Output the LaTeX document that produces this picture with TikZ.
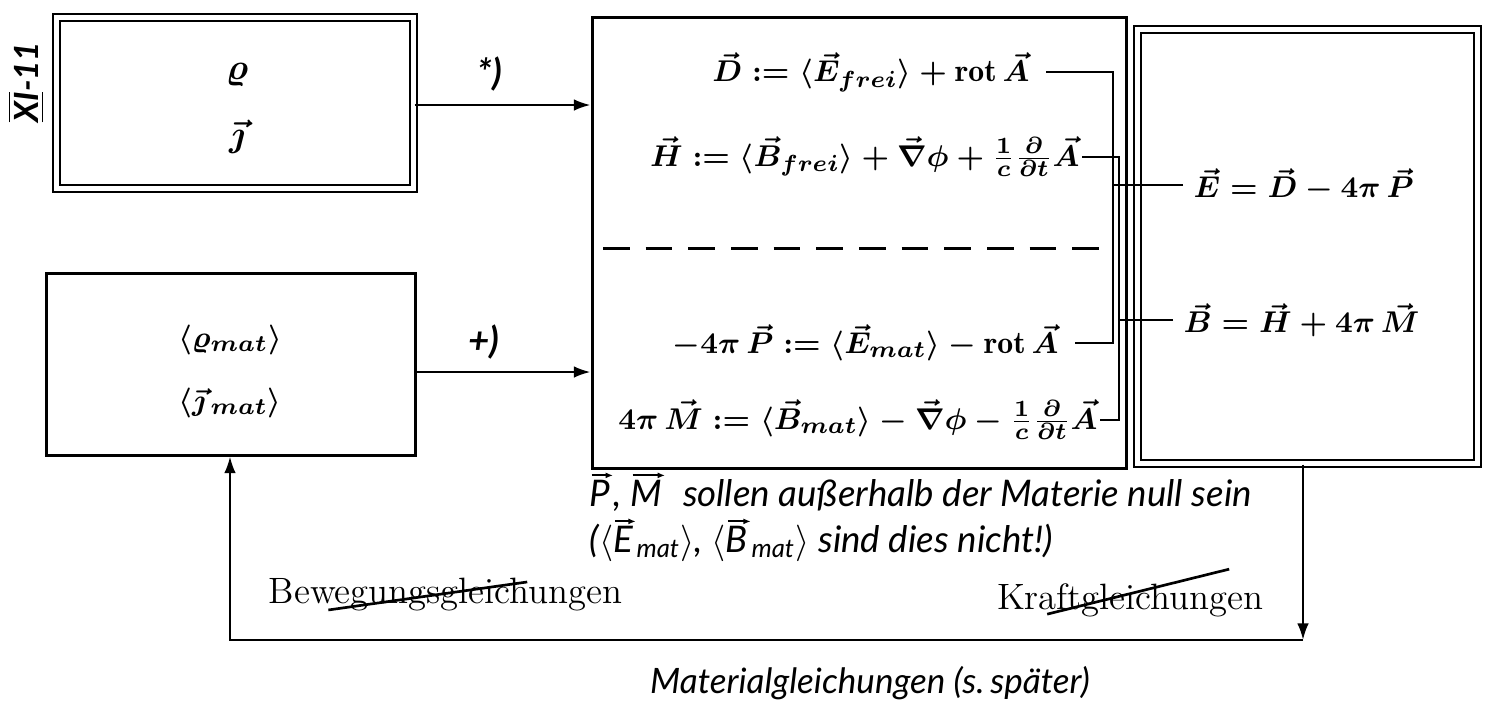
\documentclass[tikz,border=0pt]{standalone}
\usepackage{fontspec}
\usepackage{amsmath}
\usetikzlibrary{arrows.meta,calc}
\newfontfamily\handfont{Lato}
\newcommand\hv[1]{\tikz[baseline=(hvv.base)]{\node[inner sep=0pt,outer sep=0pt,anchor=base] (hvv) at (0,0) {#1};\draw[line width=0.55pt,-{Latex[length=2.2pt,width=1.8pt]}] ([yshift=1.3pt,xshift=0.6pt]hvv.north west) -- ([yshift=1.3pt,xshift=0.8pt]hvv.north east);}}
\begin{document}
\begin{tikzpicture}[x=0.3pt,y=-0.3pt,
  box/.style={draw, line width=0.9pt, inner sep=0pt},
  dbox/.style={draw, double, line width=0.6pt, double distance=1.5pt, inner sep=0pt},
  conn/.style={line width=0.7pt},
  arr/.style={line width=0.7pt, -{Latex[length=5pt,width=3.5pt]}},
  eq/.style={inner sep=0pt, font=\fontsize{9.5}{11}\selectfont\boldmath},
  bigeq/.style={inner sep=0pt, font=\fontsize{11}{13}\selectfont\boldmath},
  hand/.style={inner sep=0pt, font=\handfont\itshape\fontsize{10.5}{12}\selectfont},
  note/.style={inner sep=0pt, font=\handfont\itshape\fontsize{11}{13}\selectfont},
  serif/.style={inner sep=0pt, font=\fontsize{11}{13}\selectfont},
]
\useasboundingbox (0,0) rectangle (1487,709);

% boxes
\node[dbox, minimum width=107.1pt, minimum height=51.3pt] (box1) at (235,103) {};
\node[box, minimum width=110.7pt, minimum height=54.6pt] (box2) at (230.5,364) {};
\node[box, minimum width=160.2pt, minimum height=135.3pt] (main) at (859,242.5) {};
\node[dbox, minimum width=102pt, minimum height=130.2pt] (rbox) at (1307.5,246.5) {};

% box contents
\node[bigeq] (rho) at (237,75) {$\varrho$};
\node[bigeq] (jv) at (237,137) {$\vec\jmath$};
\node[eq] (rhom) at (230,340) {$\langle\varrho_{mat}\rangle$};
\node[eq] (jm) at (230,403) {$\langle\vec\jmath_{\,mat}\rangle$};

% page mark
\node[hand, rotate=90, font=\handfont\bfseries\itshape\fontsize{10}{12}\selectfont] (pg) at (26,82) {$\overline{\underline{\mbox{XI}}}$-11};

% equations
\node[eq, anchor=east] (eqD) at (1030,72) {$\vec D := \langle\vec E_{frei}\rangle + \mathrm{rot}\,\vec A$};
\node[eq, anchor=east] (eqH) at (1080,157) {$\vec H := \langle\vec B_{frei}\rangle + \vec\nabla\phi + \frac1c\frac{\partial}{\partial t}\vec A$};
\node[eq, anchor=east] (eqP) at (1059,343) {$-4\pi\,\vec P := \langle\vec E_{mat}\rangle - \mathrm{rot}\,\vec A$};
\node[eq, anchor=east] (eqM) at (1098,420) {$4\pi\,\vec M := \langle\vec B_{mat}\rangle - \vec\nabla\phi - \frac1c\frac{\partial}{\partial t}\vec A$};
\node[eq, anchor=west] (eqE) at (1193,185) {$\vec E = \vec D - 4\pi\,\vec P$};
\node[eq, anchor=west] (eqB) at (1183,320) {$\vec B = \vec H + 4\pi\,\vec M$};

% bracket coordinates
\coordinate (xD) at (1113,0);
\coordinate (xH) at (1119,0);
\draw[conn] ([xshift=4.8pt]eqD.east) -| (xD |- eqP.east) -- ([xshift=4.8pt]eqP.east);
\draw[conn] ([xshift=0.6pt]eqH.east) -| (xH |- eqM.east) -- ([xshift=0.6pt]eqM.east);
\draw[conn] ([xshift=-3pt]eqE.west) -- (xD |- eqE.west);
\draw[conn] ([xshift=-3pt]eqB.west) -- (xH |- eqB.west);

% dashed separator
\coordinate (dL) at (603,248);
\coordinate (dR) at (1109,248);
\draw[line width=0.9pt, dash pattern=on 8pt off 4.8pt] (dL) -- (dR);

% input arrows
\coordinate (a1) at (0,105);
\coordinate (a2) at (0,372);
\draw[arr] (box1.east |- a1) -- (main.west |- a1);
\draw[arr] (box2.east |- a2) -- (main.west |- a2);
\node[hand, font=\handfont\bfseries\itshape\fontsize{11}{13}\selectfont] (lab1) at (490,74) {*)};
\node[hand, font=\handfont\bfseries\itshape\fontsize{11}{13}\selectfont] (lab2) at (484,342) {+)};

% notes
\node[note, anchor=base west] (n1) at (589,506) {\hv{P}, \hv{M} \ sollen außerhalb der Materie null sein};
\node[note, anchor=base west] (n2) at (589,552) {(\(\langle\)\hv{E}\textsubscript{mat}\(\rangle\), \(\langle\)\hv{B}\textsubscript{mat}\(\rangle\) sind dies nicht!)};

% feedback loop
\coordinate (cR) at (1303,640);
\coordinate (cL) at (230,640);
\draw[arr] (rbox.south -| cR) -- (cR);
\draw[arr] (cR) -- (cL) -- (box2.south -| cL);

\node[serif, anchor=west] (bew) at (268,595) {Bewegungsgleichungen};
\node[serif, anchor=east] (kraft) at (1264,600) {Kraftgleichungen};
\draw[line width=0.8pt] ($(bew.base west)!0.17!(bew.base east)+(0,6)$) -- ($(bew.base west)!0.73!(bew.base east)+(0,-22)$);
\draw[line width=0.8pt] ($(kraft.base west)!0.19!(kraft.base east)+(0,5)$) -- ($(kraft.base west)!0.87!(kraft.base east)+(0,-40)$);

\node[hand] (mat) at (870,683) {Materialgleichungen (s.\,später)};
\end{tikzpicture}
\end{document}
